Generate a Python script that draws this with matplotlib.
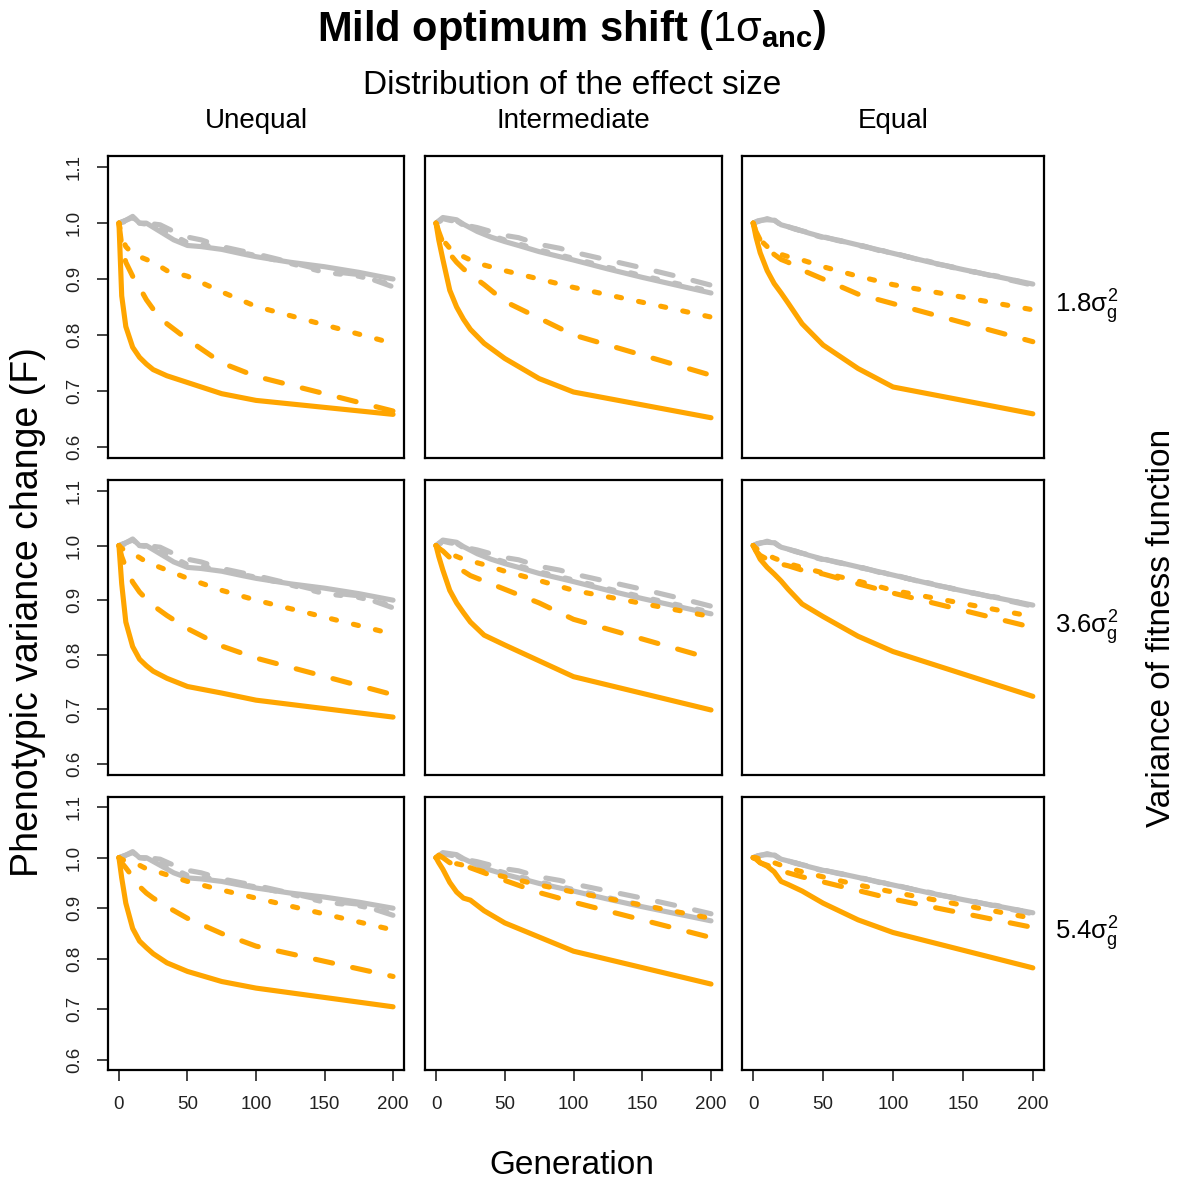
import matplotlib
matplotlib.use("Agg")
import matplotlib.pyplot as plt

plt.rcParams['font.family'] = ['Liberation Sans', 'DejaVu Sans']
plt.rcParams['mathtext.fontset'] = 'custom'
plt.rcParams['mathtext.rm'] = 'Liberation Sans'
plt.rcParams['mathtext.it'] = 'Liberation Sans'
plt.rcParams['mathtext.bf'] = 'Liberation Sans:bold'
plt.rcParams['lines.solid_capstyle'] = 'round'
plt.rcParams['lines.dash_capstyle'] = 'round'
plt.rcParams['lines.solid_joinstyle'] = 'round'
plt.rcParams['lines.dash_joinstyle'] = 'round'

# generations sampled for the selected runs and for the reference runs
gen = [0, 2, 5, 10, 15, 20, 25, 35, 50, 75, 100, 200]
gen_ref = [0, 5, 10, 15, 20, 30, 40, 50, 60, 75, 90, 100, 125, 150, 175, 200]

col_titles = ['Unequal', 'Intermediate', 'Equal']
row_titles = [r'$1.8\sigma_g^2$', r'$3.6\sigma_g^2$', r'$5.4\sigma_g^2$']
yticks = [0.6, 0.7, 0.8, 0.9, 1.0, 1.1]
xticks = [0, 50, 100, 150, 200]

# grey reference curves (same in every row), one list per column
ref_solid = [
    [1.0, 1.005, 1.012, 1.0, 1.0, 0.985, 0.97, 0.96, 0.958, 0.953, 0.945, 0.94, 0.93, 0.922, 0.912, 0.90],
    [1.0, 1.01, 1.008, 1.006, 0.998, 0.985, 0.975, 0.967, 0.96, 0.949, 0.94, 0.934, 0.918, 0.903, 0.889, 0.875],
    [1.0, 1.005, 1.006, 1.005, 0.997, 0.99, 0.982, 0.975, 0.97, 0.961, 0.952, 0.946, 0.931, 0.917, 0.904, 0.891],
]
ref_dashed = [
    [1.0, 1.005, 1.01, 1.002, 1.0, 0.997, 0.985, 0.975, 0.97, 0.958, 0.95, 0.945, 0.93, 0.915, 0.908, 0.886],
    [1.0, 1.008, 1.005, 1.003, 0.997, 0.992, 0.985, 0.978, 0.974, 0.962, 0.955, 0.948, 0.934, 0.92, 0.905, 0.889],
    [1.0, 1.004, 1.008, 1.004, 0.998, 0.989, 0.983, 0.976, 0.969, 0.962, 0.951, 0.947, 0.93, 0.918, 0.903, 0.889],
]
ref_dotted = [
    [1.0, 1.003, 1.008, 1.0, 0.998, 0.99, 0.978, 0.965, 0.962, 0.955, 0.947, 0.942, 0.928, 0.912, 0.905, 0.89],
    [1.0, 1.006, 1.006, 1.004, 0.996, 0.988, 0.978, 0.97, 0.963, 0.952, 0.943, 0.937, 0.921, 0.906, 0.892, 0.878],
    [1.0, 1.006, 1.005, 1.006, 0.996, 0.99, 0.981, 0.974, 0.97, 0.96, 0.953, 0.945, 0.932, 0.916, 0.905, 0.89],
]

# orange curves, fitness variance 1.8 sigma_g^2 (Unequal, Intermediate, Equal)
sel_solid_18 = [
    [1.0, 0.87, 0.815, 0.778, 0.76, 0.748, 0.738, 0.727, 0.715, 0.695, 0.683, 0.658],
    [1.0, 0.97, 0.935, 0.88, 0.85, 0.828, 0.81, 0.785, 0.758, 0.722, 0.698, 0.652],
    [1.0, 0.975, 0.947, 0.915, 0.892, 0.875, 0.857, 0.82, 0.782, 0.74, 0.707, 0.659],
]
sel_dashed_18 = [
    [1.0, 0.96, 0.93, 0.905, 0.885, 0.863, 0.846, 0.82, 0.792, 0.75, 0.726, 0.664],
    [1.0, 0.985, 0.965, 0.945, 0.93, 0.918, 0.908, 0.89, 0.86, 0.83, 0.80, 0.728],
    [1.0, 0.985, 0.97, 0.955, 0.944, 0.935, 0.93, 0.916, 0.9, 0.873, 0.856, 0.788],
]
sel_dotted_18 = [
    [1.0, 0.975, 0.958, 0.945, 0.94, 0.935, 0.93, 0.915, 0.905, 0.877, 0.851, 0.785],
    [1.0, 0.985, 0.97, 0.955, 0.947, 0.94, 0.934, 0.925, 0.915, 0.9, 0.885, 0.832],
    [1.0, 0.985, 0.97, 0.958, 0.95, 0.944, 0.94, 0.934, 0.922, 0.905, 0.89, 0.845],
]

# fitness variance 3.6 sigma_g^2
sel_solid_36 = [
    [1.0, 0.93, 0.86, 0.815, 0.792, 0.78, 0.77, 0.757, 0.742, 0.73, 0.717, 0.686],
    [1.0, 0.98, 0.955, 0.918, 0.895, 0.877, 0.86, 0.836, 0.818, 0.789, 0.76, 0.699],
    [1.0, 0.99, 0.975, 0.96, 0.948, 0.935, 0.92, 0.893, 0.87, 0.834, 0.806, 0.724],
]
sel_dashed_36 = [
    [1.0, 0.98, 0.96, 0.933, 0.915, 0.902, 0.89, 0.872, 0.848, 0.816, 0.794, 0.727],
    [1.0, 0.995, 0.99, 0.978, 0.965, 0.953, 0.945, 0.935, 0.92, 0.895, 0.865, 0.793],
    [1.0, 0.99, 0.982, 0.975, 0.97, 0.966, 0.963, 0.955, 0.948, 0.93, 0.913, 0.85],
]
sel_dotted_36 = [
    [1.0, 0.995, 0.99, 0.985, 0.978, 0.97, 0.965, 0.955, 0.94, 0.918, 0.9, 0.838],
    [1.0, 0.995, 0.99, 0.985, 0.98, 0.975, 0.972, 0.965, 0.953, 0.936, 0.918, 0.87],
    [1.0, 0.995, 0.99, 0.983, 0.977, 0.972, 0.967, 0.96, 0.95, 0.935, 0.918, 0.87],
]

# fitness variance 5.4 sigma_g^2
sel_solid_54 = [
    [1.0, 0.96, 0.91, 0.86, 0.835, 0.822, 0.81, 0.792, 0.775, 0.755, 0.742, 0.705],
    [1.0, 0.99, 0.977, 0.951, 0.932, 0.92, 0.916, 0.895, 0.871, 0.843, 0.815, 0.75],
    [1.0, 0.997, 0.99, 0.983, 0.972, 0.953, 0.947, 0.934, 0.91, 0.877, 0.852, 0.782],
]
sel_dashed_54 = [
    [1.0, 0.99, 0.98, 0.962, 0.943, 0.93, 0.92, 0.903, 0.88, 0.85, 0.825, 0.765],
    [1.0, 1.005, 1.0, 0.99, 0.988, 0.985, 0.98, 0.97, 0.955, 0.931, 0.912, 0.842],
    [1.0, 0.998, 0.99, 0.985, 0.98, 0.975, 0.97, 0.962, 0.952, 0.935, 0.918, 0.862],
]
sel_dotted_54 = [
    [1.0, 0.997, 0.993, 0.99, 0.985, 0.978, 0.975, 0.966, 0.953, 0.936, 0.92, 0.857],
    [1.0, 1.003, 1.0, 0.993, 0.988, 0.985, 0.98, 0.972, 0.962, 0.946, 0.932, 0.88],
    [1.0, 1.0, 0.997, 0.993, 0.99, 0.985, 0.98, 0.972, 0.962, 0.946, 0.932, 0.88],
]

rows = [
    (sel_solid_18, sel_dashed_18, sel_dotted_18),
    (sel_solid_36, sel_dashed_36, sel_dotted_36),
    (sel_solid_54, sel_dashed_54, sel_dotted_54),
]

ORANGE = '#FFA500'
GREY = '#BEBEBE'
LW = 3.7
styles = ['-', (0, (3.4, 4.0)), (0, (1, 3.4))]

W, H = 1181, 1180
fig = plt.figure(figsize=(W / 100, H / 100), dpi=100)

# panel boxes in pixels: columns (left, width), rows (top, bottom)
col_box = [(108, 296), (425, 297), (742, 302)]
row_box = [(156, 458), (480, 775), (797, 1070)]

for r, (top, bot) in enumerate(row_box):
    for c, (left, width) in enumerate(col_box):
        ax = fig.add_axes([left / W, 1 - bot / H, width / W, (bot - top) / H])
        for series, ls in zip((ref_solid, ref_dashed, ref_dotted), styles):
            ax.plot(gen_ref, series[c], color=GREY, lw=LW, linestyle=ls)
        for series, ls in zip(rows[r], styles):
            ax.plot(gen, series[c], color=ORANGE, lw=LW, linestyle=ls)

        ax.set_xlim(-8, 208)
        ax.set_ylim(0.58, 1.12)
        for sp in ax.spines.values():
            sp.set_linewidth(1.6)
        ax.tick_params(length=8, width=1.2, labelsize=13.5, color='#222222', labelcolor='#222222')

        if c == 0:
            ax.set_yticks(yticks)
            ax.set_yticklabels([f'{v:.1f}' for v in yticks], rotation=90, va='center')
            ax.tick_params(axis='y', pad=10)
        else:
            ax.set_yticks([])
        if r == 2:
            ax.set_xticks(xticks)
            ax.set_xticklabels([str(v) for v in xticks])
            ax.tick_params(axis='x', pad=11)
        else:
            ax.set_xticks([])

        if r == 0:
            fig.text((left + width / 2) / W, 1 - 121 / H, col_titles[c],
                     ha='center', va='center', fontsize=20)
    fig.text(1055 / W, 1 - (top + bot) / 2 / H, row_titles[r],
             ha='left', va='center', fontsize=18.5)

fig.text(572 / W, 1 - 30 / H, r'Mild optimum shift ($1\sigma_{\mathbf{anc}}$)',
         ha='center', va='center', fontsize=30, fontweight='bold')
fig.text(572 / W, 1 - 85 / H, 'Distribution of the effect size',
         ha='center', va='center', fontsize=24)
fig.text(28 / W, 1 - 612 / H, 'Phenotypic variance change (F)',
         ha='center', va='center', rotation=90, fontsize=27)
fig.text(1162 / W, 1 - 628 / H, 'Variance of fitness function',
         ha='center', va='center', rotation=90, fontsize=24)
fig.text(572 / W, 1 - 1165 / H, 'Generation',
         ha='center', va='center', fontsize=24)

fig.savefig('out.png', dpi=100)
